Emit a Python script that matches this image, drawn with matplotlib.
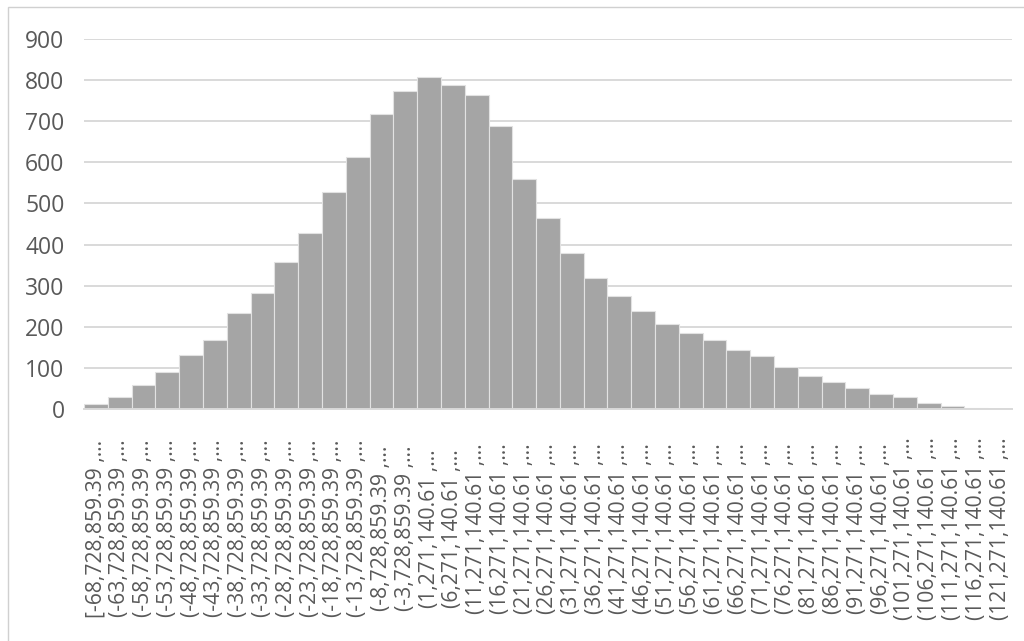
import matplotlib.pyplot as plt
from matplotlib.patches import Rectangle

# bin labels as shown (truncated by Excel)
bin_labels = [
    "[-68,728,859.39 ,…", "(-63,728,859.39 ,…", "(-58,728,859.39 ,…",
    "(-53,728,859.39 ,…", "(-48,728,859.39 ,…", "(-43,728,859.39 ,…",
    "(-38,728,859.39 ,…", "(-33,728,859.39 ,…", "(-28,728,859.39 ,…",
    "(-23,728,859.39 ,…", "(-18,728,859.39 ,…", "(-13,728,859.39 ,…",
    "(-8,728,859.39 ,…", "(-3,728,859.39 ,…", "(1,271,140.61 ,…",
    "(6,271,140.61 ,…", "(11,271,140.61 ,…", "(16,271,140.61 ,…",
    "(21,271,140.61 ,…", "(26,271,140.61 ,…", "(31,271,140.61 ,…",
    "(36,271,140.61 ,…", "(41,271,140.61 ,…", "(46,271,140.61 ,…",
    "(51,271,140.61 ,…", "(56,271,140.61 ,…", "(61,271,140.61 ,…",
    "(66,271,140.61 ,…", "(71,271,140.61 ,…", "(76,271,140.61 ,…",
    "(81,271,140.61 ,…", "(86,271,140.61 ,…", "(91,271,140.61 ,…",
    "(96,271,140.61 ,…", "(101,271,140.61 ,…", "(106,271,140.61 ,…",
    "(111,271,140.61 ,…", "(116,271,140.61 ,…", "(121,271,140.61 ,…",
]

counts = [11, 29, 58, 90, 132, 169, 233, 281, 357, 429, 529, 614, 718, 774,
          807, 788, 763, 688, 560, 465, 379, 319, 274, 239, 206, 186, 167,
          144, 130, 102, 81, 66, 50, 37, 28, 15, 7, 2, 0]

y_ticks = [0, 100, 200, 300, 400, 500, 600, 700, 800, 900]

plt.rcParams['font.family'] = ['Open Sans', 'DejaVu Sans']
text_color = '#595959'
grid_color = '#D9D9D9'

W, H = 1024, 641
fig = plt.figure(figsize=(W / 100, H / 100), dpi=100)
ax = fig.add_axes([84 / W, (H - 409) / H, (1012 - 84) / W, (409 - 39) / H])

x = list(range(len(counts)))
ax.bar(x, counts, width=1.0, color='#A5A5A5', edgecolor='#E2E2E2',
       linewidth=0.8, zorder=2)

ax.set_xlim(-0.5, len(counts) - 0.5)
ax.set_ylim(0, 900)
ax.set_yticks(y_ticks)
ax.yaxis.grid(True, color=grid_color, linewidth=1.4, zorder=0)
ax.set_axisbelow(True)
for side in ['top', 'right', 'left']:
    ax.spines[side].set_visible(False)
ax.spines['bottom'].set_color(grid_color)
ax.spines['bottom'].set_linewidth(1.4)

ax.tick_params(axis='y', length=0, pad=14, labelsize=16.5, labelcolor=text_color)
ax.set_xticks(x)
ax.set_xticklabels(bin_labels, rotation=90, va='center', ha='center')
ax.tick_params(axis='x', length=0, pad=86, labelsize=15.2, labelcolor=text_color)

# chart border
fig.patches.append(Rectangle((8 / W, -0.1), 1.2, 1.1 - 7 / H, transform=fig.transFigure,
                             fill=False, edgecolor='#D0D0D0', linewidth=1.0))

fig.savefig('out.png', dpi=100)
